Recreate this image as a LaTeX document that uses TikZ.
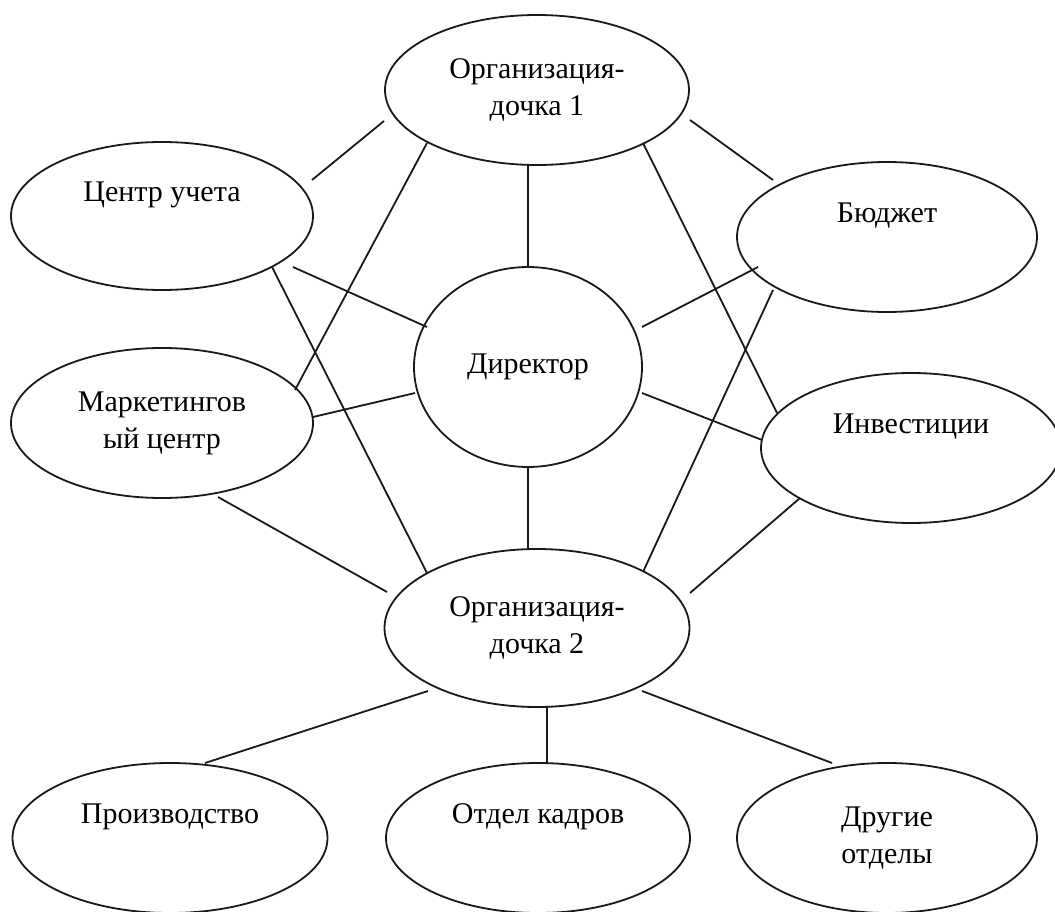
\documentclass[tikz,border=0pt]{standalone}
\usepackage{fontspec}
\setmainfont{Liberation Serif}
\usetikzlibrary{shapes.geometric}
\begin{document}
\begin{tikzpicture}[x=1pt,y=-1pt,
  blob/.style={ellipse, draw=black!90, line width=1.8pt, inner sep=0pt, align=center,
    font=\fontsize{30}{37}\selectfont, text=black},
  conn/.style={draw=black!90, line width=1.8pt}]
\useasboundingbox[fill=white] (0,0) rectangle (1055,912);
% nodes
\node[blob, minimum width=304pt, minimum height=150pt] (o1) at (537,90) {Организация-\\дочка 1};
\node[blob, minimum width=302pt, minimum height=148pt] (cu) at (162,216) {Центр учета\\\strut};
\node[blob, minimum width=300pt, minimum height=150pt] (bu) at (887,237) {Бюджет\\\strut};
\node[blob, minimum width=228pt, minimum height=200pt] (dir) at (528,367) {Директор};
\node[blob, minimum width=302pt, minimum height=150pt] (mk) at (162,423) {Маркетингов\\ый центр};
\node[blob, minimum width=300pt, minimum height=150pt] (inv) at (911,448) {Инвестиции\\\strut};
\node[blob, minimum width=305pt, minimum height=158pt] (o2) at (537,628) {Организация-\\дочка 2};
\node[blob, minimum width=315pt, minimum height=150pt] (pr) at (170,838) {Производство\\\strut};
\node[blob, minimum width=304pt, minimum height=150pt] (ok) at (538,838) {Отдел кадров\\\strut};
\node[blob, minimum width=300pt, minimum height=150pt] (dr) at (887,838) {Другие\\отделы};
% connectors
\path[conn] ([shift={(150,-36)}]cu.center) -- ([shift={(-153,31)}]o1.center);
\path[conn] ([shift={(-110,53)}]o1.center) -- ([shift={(133,-33)}]mk.center);
\path[conn] ([shift={(110,51)}]cu.center) -- ([shift={(-110,-55)}]o2.center);
\path[conn] ([shift={(131,51)}]cu.center) -- ([shift={(-101,-40)}]dir.center);
\path[conn] ([shift={(151,-6)}]mk.center) -- ([shift={(-113,26)}]dir.center);
\path[conn] ([shift={(56,74)}]mk.center) -- ([shift={(-150,-36)}]o2.center);
\path[conn] ([shift={(-9,74)}]o1.center) -- ([shift={(0,-101)}]dir.center);
\path[conn] ([shift={(153,30)}]o1.center) -- ([shift={(-114,-57)}]bu.center);
\path[conn] ([shift={(106,53)}]o1.center) -- ([shift={(-134,-35)}]inv.center);
\path[conn] ([shift={(114,-40)}]dir.center) -- ([shift={(-129,30)}]bu.center);
\path[conn] ([shift={(-114,53)}]bu.center) -- ([shift={(106,-56)}]o2.center);
\path[conn] ([shift={(114,26)}]dir.center) -- ([shift={(-149,-8)}]inv.center);
\path[conn] ([shift={(0,100)}]dir.center) -- ([shift={(-9,-79)}]o2.center);
\path[conn] ([shift={(-111,50)}]inv.center) -- ([shift={(153,-35)}]o2.center);
\path[conn] ([shift={(-109,63)}]o2.center) -- ([shift={(35,-75)}]pr.center);
\path[conn] ([shift={(10,79)}]o2.center) -- ([shift={(9,-75)}]ok.center);
\path[conn] ([shift={(105,63)}]o2.center) -- ([shift={(-55,-75)}]dr.center);
\end{tikzpicture}
\end{document}
